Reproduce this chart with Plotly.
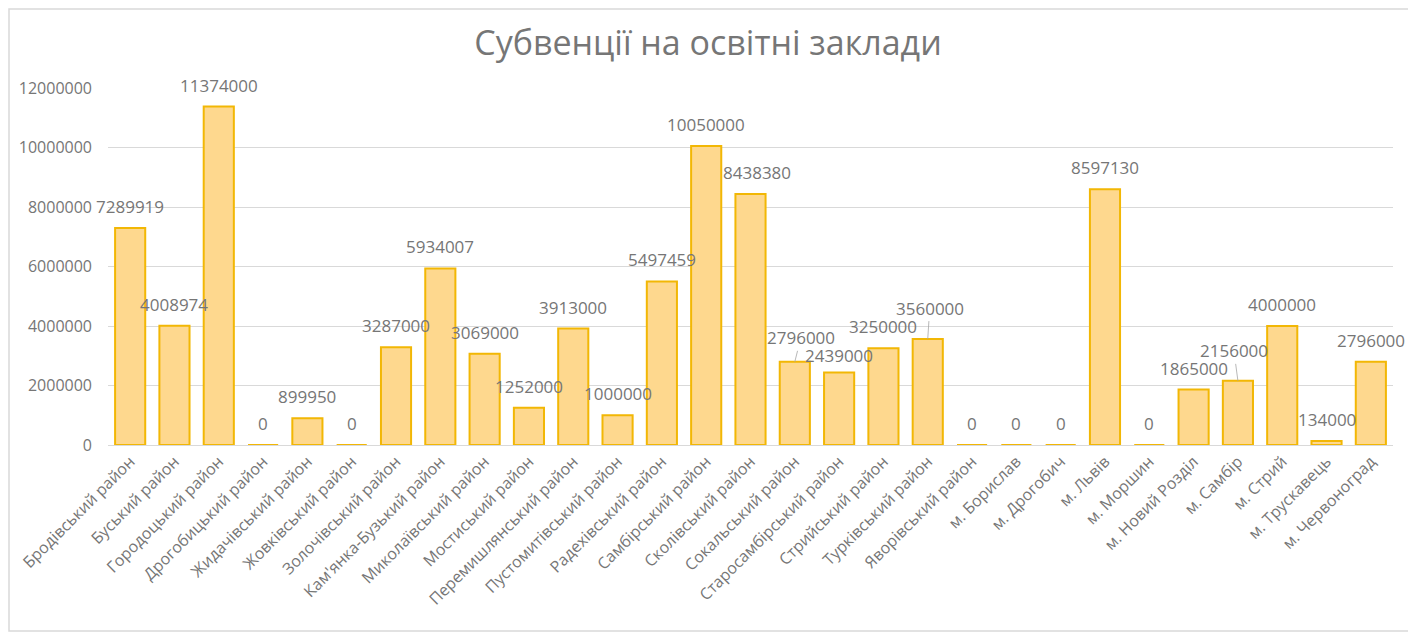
import plotly.graph_objects as go

# Субвенції на освітні заклади, грн
districts = [
    "Бродівський район", "Буський район", "Городоцький район", "Дрогобицький район",
    "Жидачівський район", "Жовківський район", "Золочівський район",
    "Кам'янка-Бузький район", "Миколаївський район", "Мостиський район",
    "Перемишлянський район", "Пустомитівський район", "Радехівський район",
    "Самбірський район", "Сколівський район", "Сокальський район",
    "Старосамбірський район", "Стрийський район", "Турківський район",
    "Яворівський район", "м. Борислав", "м. Дрогобич", "м. Львів", "м. Моршин",
    "м. Новий Розділ", "м. Самбір", "м. Стрий", "м. Трускавець", "м. Червоноград",
]
amounts = [
    7289919, 4008974, 11374000, 0, 899950, 0, 3287000, 5934007, 3069000, 1252000,
    3913000, 1000000, 5497459, 10050000, 8438380, 2796000, 2439000, 3250000, 3560000,
    0, 0, 0, 8597130, 0, 1865000, 2156000, 4000000, 134000, 2796000,
]
y_ticks = [0, 2000000, 4000000, 6000000, 8000000, 10000000, 12000000]

GREY = "#767676"
FONT = "Open Sans"

fig = go.Figure(go.Bar(
    x=districts, y=amounts,
    marker=dict(color="#fed88e", line=dict(color="#f2b705", width=2)),
    hoverinfo="x+y",
))

# data labels, a few of them moved off the bar with a leader line like Excel does
leaders = {"Сокальський район": (6, -24), "Турківський район": (2, -31), "м. Самбір": (-4, -30)}
nudges = {"Сколівський район": 6}
for name, val in zip(districts, amounts):
    if name in leaders:
        ax, ay = leaders[name]
        fig.add_annotation(x=name, y=val, text=str(val), showarrow=True, ax=ax, ay=ay,
                           arrowhead=0, arrowwidth=0.8, arrowcolor="#a6a6a6",
                           font=dict(family=FONT, size=17, color=GREY))
    else:
        fig.add_annotation(x=name, y=val, text=str(val), showarrow=False,
                           yanchor="bottom", yshift=3 if name == "Старосамбірський район" else 8,
                           xshift=nudges.get(name, 0),
                           font=dict(family=FONT, size=17, color=GREY))

# the page adds an 8px body margin, so the figure is 8px smaller than the window
fig.update_layout(
    width=1408, height=624,
    margin=dict(l=100, r=23, t=80, b=187),
    paper_bgcolor="white", plot_bgcolor="white",
    title=dict(text="Субвенції на освітні заклади", x=0.5 - 4 / 1408, xanchor="center",
               y=1 - 35 / 624, yanchor="middle",
               font=dict(family=FONT, size=34, color=GREY)),
    bargap=0.32,
    showlegend=False,
    font=dict(family=FONT, color=GREY),
)
fig.update_xaxes(tickangle=-45, tickfont=dict(size=16, color=GREY), automargin=False,
                 range=[-0.5, len(districts) - 0.5],
                 showline=True, linecolor="#d9d9d9", linewidth=1, ticks="")
fig.update_yaxes(range=[0, 12000000], tickvals=y_ticks, tickformat="d", automargin=False,
                 tickfont=dict(size=16, color=GREY), ticklabelstandoff=15,
                 gridcolor="#d9d9d9", gridwidth=1, zeroline=False, showline=False)

# thin frame round the whole chart
fig.add_shape(type="rect", xref="paper", yref="paper",
              x0=-99 / 1285, x1=1 + 22 / 1285, y0=-186 / 357, y1=1 + 79 / 357,
              line=dict(color="#d9d9d9", width=1.5), layer="below")

fig.write_html("out.html")
